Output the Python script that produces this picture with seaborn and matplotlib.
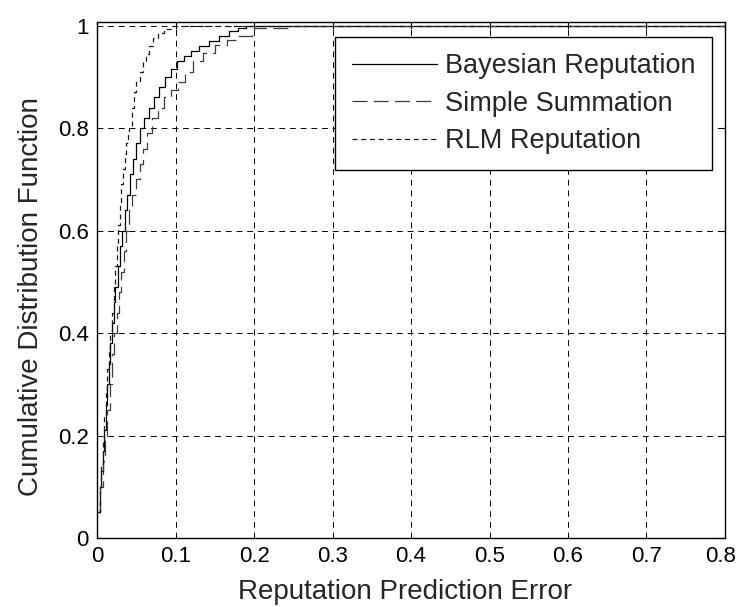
import numpy as np
import pandas as pd
import matplotlib
matplotlib.use("Agg")
import matplotlib.pyplot as plt
import matplotlib.transforms as mtransforms
import seaborn as sns

# Empirical CDF knots (prediction error, cumulative fraction)
bayes_x = [0.001, 0.003, 0.005, 0.007, 0.009, 0.011, 0.013, 0.015, 0.017, 0.019,
           0.021, 0.023, 0.026, 0.029, 0.032, 0.035, 0.038, 0.042, 0.046, 0.050,
           0.055, 0.060, 0.066, 0.072, 0.079, 0.086, 0.094, 0.102, 0.111, 0.120,
           0.130, 0.142, 0.155, 0.168, 0.180, 0.190, 0.800]
bayes_y = [0.05, 0.10, 0.13, 0.17, 0.21, 0.26, 0.30, 0.34, 0.38, 0.42,
           0.46, 0.49, 0.53, 0.57, 0.60, 0.64, 0.67, 0.71, 0.74, 0.77,
           0.80, 0.82, 0.84, 0.86, 0.88, 0.90, 0.915, 0.93, 0.94, 0.95,
           0.96, 0.97, 0.98, 0.99, 0.995, 1.0, 1.0]

simple_x = [0.001, 0.004, 0.007, 0.010, 0.013, 0.016, 0.019, 0.022, 0.025, 0.028,
            0.031, 0.034, 0.037, 0.041, 0.045, 0.049, 0.054, 0.059, 0.064, 0.070,
            0.077, 0.085, 0.094, 0.103, 0.112, 0.122, 0.135, 0.150, 0.165, 0.180,
            0.197, 0.200, 0.243, 0.800]
simple_y = [0.05, 0.10, 0.15, 0.20, 0.25, 0.30, 0.36, 0.40, 0.44, 0.48,
            0.52, 0.56, 0.60, 0.64, 0.67, 0.70, 0.73, 0.76, 0.79, 0.82,
            0.84, 0.86, 0.875, 0.89, 0.91, 0.93, 0.946, 0.962, 0.972, 0.98,
            0.987, 0.995, 1.0, 1.0]

rlm_x = [0.001, 0.003, 0.005, 0.007, 0.009, 0.011, 0.013, 0.015, 0.017, 0.019,
         0.021, 0.023, 0.025, 0.027, 0.029, 0.031, 0.033, 0.035, 0.037, 0.039,
         0.041, 0.044, 0.047, 0.050, 0.054, 0.058, 0.062, 0.066, 0.071, 0.078,
         0.085, 0.095, 0.800]
rlm_y = [0.05, 0.10, 0.14, 0.19, 0.24, 0.29, 0.33, 0.37, 0.40, 0.44,
         0.49, 0.53, 0.57, 0.61, 0.65, 0.69, 0.72, 0.75, 0.77, 0.79,
         0.80, 0.84, 0.87, 0.89, 0.91, 0.93, 0.945, 0.96, 0.975, 0.985,
         0.993, 1.0, 1.0]

x_ticks = [0, 0.1, 0.2, 0.3, 0.4, 0.5, 0.6, 0.7, 0.8]
x_tick_labels = ["0", "0.1", "0.2", "0.3", "0.4", "0.5", "0.6", "0.7", "0.8"]
y_ticks = [0, 0.2, 0.4, 0.6, 0.8, 1.0]
y_tick_labels = ["0", "0.2", "0.4", "0.6", "0.8", "1"]

series = [
    ("Bayesian Reputation", bayes_x, bayes_y, "#000000", None),
    ("Simple Summation", simple_x, simple_y, "#3c3c3c", (12, 5)),
    ("RLM Reputation", rlm_x, rlm_y, "#1a1a1a", (4, 3)),
]

sns.set_style("white")
plt.rcParams["font.family"] = ["Liberation Sans", "DejaVu Sans"]

fig = plt.figure(figsize=(7.36, 6.07), dpi=100)
ax = fig.add_axes([0.132, 0.1137, 0.853, 0.850])

for name, xs, ys, col, dash in series:
    df = pd.DataFrame({"err": xs, "cdf": ys})
    sns.lineplot(data=df, x="err", y="cdf", ax=ax, estimator=None, sort=False,
                 drawstyle="steps-post", color=col, linewidth=0.9, label=name)
    if dash is not None:
        ax.lines[-1].set_dashes(dash)

ax.set_xlim(0, 0.8)
ax.set_ylim(0, 1.007)
ax.set_xticks(x_ticks)
ax.set_xticklabels(x_tick_labels)
ax.set_yticks(y_ticks)
ax.set_yticklabels(y_tick_labels)
ax.tick_params(direction="in", length=5, width=0.8, top=True, right=True,
               labelsize=16, colors="black", pad=6)
ax.grid(True, color="black", linestyle=(0, (6, 5)), linewidth=0.7)
for s in ax.spines.values():
    s.set_color("black")
    s.set_linewidth(1.0)

# keep the last x tick label inside the canvas
last = ax.get_xticklabels()[-1]
last.set_transform(last.get_transform() +
                   mtransforms.ScaledTranslation(-4 / 100, 0, fig.dpi_scale_trans))

ax.set_xlabel("Reputation Prediction Error", fontsize=20)
ax.set_ylabel("Cumulative Distribution Function", fontsize=20)
ax.xaxis.set_label_coords(0.49, -0.080)
ax.yaxis.set_label_coords(-0.084, 0.467)

leg = ax.legend(loc="upper right", bbox_to_anchor=(0.979, 0.971), fontsize=19.5,
                frameon=True, fancybox=False, edgecolor="black", framealpha=1,
                handlelength=3.15, handletextpad=0.3, labelspacing=0.42,
                borderpad=0.6, borderaxespad=0)
leg.get_frame().set_linewidth(1.0)

fig.savefig("out.png", dpi=100)
